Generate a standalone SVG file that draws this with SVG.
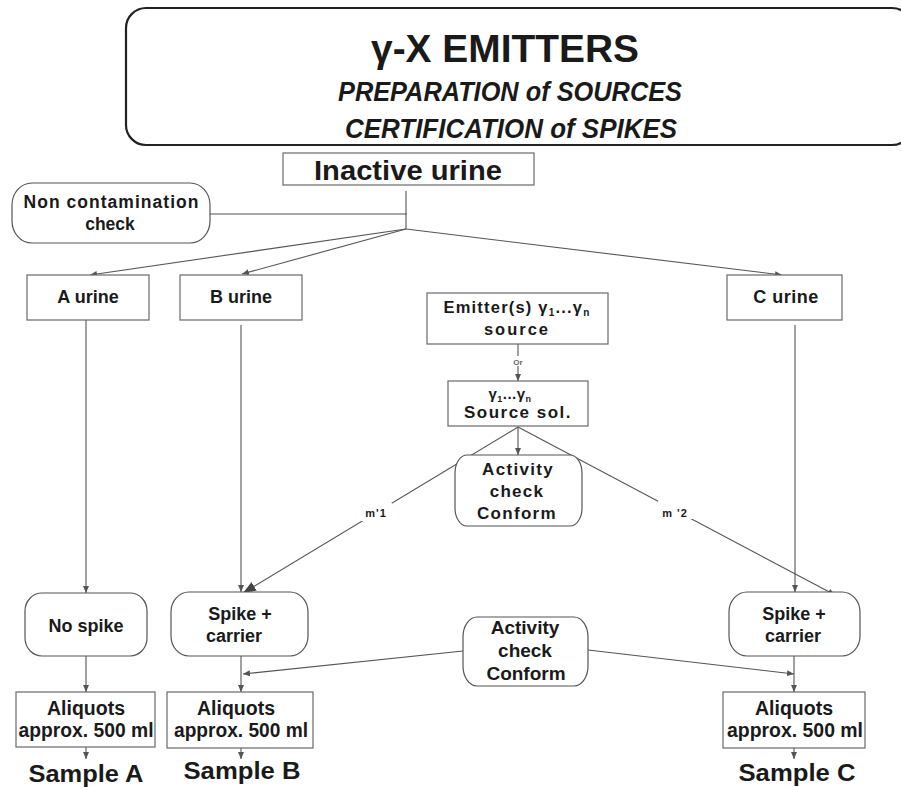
<svg xmlns="http://www.w3.org/2000/svg" width="901" height="787" viewBox="0 0 901 787">
<style>
text{font-family:"Liberation Sans",Arial,sans-serif;font-weight:bold;fill:#1a1a1a;text-anchor:middle}
.box{fill:#fff;stroke:#6a6a6a;stroke-width:1.2}
.rbox{fill:#fff;stroke:#555;stroke-width:1.2}
.ln{stroke:#555;stroke-width:1.1;fill:none}
.arr{marker-end:url(#ah)}
.lbl{font-size:11px}
</style>
<defs>
<marker id="ah" markerUnits="userSpaceOnUse" markerWidth="8" markerHeight="8" refX="7" refY="4" orient="auto">
<path d="M0,1 L7,4 L0,7 z" fill="#555"/>
</marker>
<marker id="ahb" markerUnits="userSpaceOnUse" markerWidth="14" markerHeight="12" refX="13" refY="6" orient="auto">
<path d="M0,1 L13,6 L0,11 z" fill="#444"/>
</marker>
</defs>
<rect width="901" height="787" fill="#fff"/>

<g id="title">
<rect x="126" y="8" width="786" height="137" rx="20" ry="20" fill="#fff" stroke="#222" stroke-width="2.2"/>
<text x="505" y="62" font-size="39" textLength="268" lengthAdjust="spacingAndGlyphs">γ-X EMITTERS</text>
<text x="510" y="101" font-size="27" font-style="italic" textLength="344" lengthAdjust="spacingAndGlyphs">PREPARATION of SOURCES</text>
<text x="511" y="138" font-size="27" font-style="italic" textLength="332" lengthAdjust="spacingAndGlyphs">CERTIFICATION of SPIKES</text>
</g>

<g id="connectors">
<line class="ln" x1="406" y1="191" x2="406" y2="229"/>
<line class="ln" x1="210" y1="214" x2="407" y2="214"/>
<line class="ln arr" x1="406" y1="229" x2="90" y2="275"/>
<line class="ln arr" x1="406" y1="229" x2="242" y2="274"/>
<line class="ln arr" x1="406" y1="229" x2="782" y2="275"/>
<line class="ln arr" x1="86" y1="320" x2="86" y2="593"/>
<line class="ln arr" x1="241" y1="325" x2="241" y2="592"/>
<line class="ln arr" x1="795" y1="325" x2="795" y2="592"/>
<line class="ln arr" x1="518" y1="344" x2="518" y2="381"/>
<line class="ln arr" x1="518" y1="427" x2="518" y2="455"/>
<line class="ln" x1="518" y1="427" x2="243" y2="593" marker-end="url(#ahb)"/>
<line class="ln arr" x1="518" y1="427" x2="835" y2="595"/>
<line class="ln arr" x1="463" y1="651" x2="243" y2="674"/>
<line class="ln arr" x1="588" y1="650" x2="794" y2="674"/>
<line class="ln arr" x1="86" y1="656" x2="86" y2="692"/>
<line class="ln arr" x1="241" y1="656" x2="241" y2="692"/>
<line class="ln arr" x1="794" y1="656" x2="794" y2="692"/>
<line class="ln arr" x1="86" y1="747" x2="86" y2="759"/>
<line class="ln arr" x1="241" y1="748" x2="241" y2="759"/>
<line class="ln arr" x1="794" y1="748" x2="794" y2="759"/>
<rect x="511" y="356" width="14" height="10" fill="#fff"/>
<text x="518" y="365" font-size="8" font-weight="normal" style="fill:#666">Or</text>
<rect x="360" y="503" width="32" height="18" fill="#fff"/>
<text class="lbl" x="376" y="517" letter-spacing="1">m'1</text>
<rect x="658" y="501" width="35" height="18" fill="#fff"/>
<text class="lbl" x="675" y="517" letter-spacing="1">m '2</text>
</g>

<g id="inactive">
<rect class="box" x="283" y="153" width="251" height="32"/>
<text x="408" y="180" font-size="27" textLength="188" lengthAdjust="spacingAndGlyphs">Inactive urine</text>
</g>

<g id="noncontam">
<rect class="rbox" x="12" y="183" width="198" height="60" rx="20" ry="22"/>
<text x="111" y="208" font-size="17.5" textLength="175" lengthAdjust="spacing">Non contamination</text>
<text x="110" y="230" font-size="17.5">check</text>
</g>

<g id="aurine">
<rect class="box" x="27" y="275" width="122" height="45"/>
<text x="88" y="303" font-size="18">A urine</text>
</g>
<g id="burine">
<rect class="box" x="180" y="275" width="122" height="45"/>
<text x="241" y="303" font-size="18">B urine</text>
</g>
<g id="curine">
<rect class="box" x="727" y="275" width="115" height="45"/>
<text x="786" y="303" font-size="18" letter-spacing="0.5">C urine</text>
</g>

<g id="emitter">
<rect class="box" x="427" y="293" width="181" height="51"/>
<text x="517" y="313" font-size="16.5" letter-spacing="1.2">Emitter(s) γ<tspan font-size="10" dy="3">1</tspan><tspan dy="-3">...γ</tspan><tspan font-size="10" dy="3">n</tspan></text>
<text x="517" y="335" font-size="16.5" letter-spacing="2">source</text>
</g>

<g id="sourcesol">
<rect class="box" x="448" y="381" width="140" height="45"/>
<text x="510" y="399" font-size="15" letter-spacing="0.5">γ<tspan font-size="9" dy="3">1</tspan><tspan dy="-3">...γ</tspan><tspan font-size="9" dy="3">n</tspan></text>
<text x="518" y="418" font-size="17" letter-spacing="1.5">Source sol.</text>
</g>

<g id="activity1">
<rect class="rbox" x="455" y="455" width="127" height="71" rx="12" ry="18"/>
<text x="518" y="475" font-size="17" letter-spacing="1.3">Activity</text>
<text x="517" y="497" font-size="17" letter-spacing="1.3">check</text>
<text x="517" y="519" font-size="17" letter-spacing="1.3">Conform</text>
</g>

<g id="nospike">
<rect class="rbox" x="25" y="593" width="122" height="63" rx="17" ry="18"/>
<text x="86" y="632" font-size="18">No spike</text>
</g>
<g id="spikeb">
<rect class="rbox" x="171" y="592" width="137" height="64" rx="18" ry="20"/>
<text x="240" y="620" font-size="18">Spike +</text>
<text x="234" y="642" font-size="18">carrier</text>
</g>
<g id="spikec">
<rect class="rbox" x="729" y="592" width="131" height="64" rx="18" ry="20"/>
<text x="794" y="620" font-size="18">Spike +</text>
<text x="793" y="642" font-size="18">carrier</text>
</g>

<g id="activity2">
<rect class="rbox" x="463" y="617" width="125" height="69" rx="14" ry="20"/>
<text x="525" y="634" font-size="19">Activity</text>
<text x="525" y="657" font-size="19">check</text>
<text x="526" y="680" font-size="19">Conform</text>
</g>

<g id="aliqa">
<rect class="box" x="16" y="692" width="139" height="55"/>
<text x="86" y="715" font-size="19.5">Aliquots</text>
<text x="86" y="737" font-size="19.5" textLength="135" lengthAdjust="spacingAndGlyphs">approx. 500 ml</text>
</g>
<g id="aliqb">
<rect class="box" x="167" y="692" width="146" height="56"/>
<text x="236" y="715" font-size="19.5">Aliquots</text>
<text x="241" y="737" font-size="19.5" textLength="134" lengthAdjust="spacingAndGlyphs">approx. 500 ml</text>
</g>
<g id="aliqc">
<rect class="box" x="723" y="692" width="142" height="56"/>
<text x="794" y="715" font-size="19.5">Aliquots</text>
<text x="795" y="737" font-size="19.5" textLength="136" lengthAdjust="spacingAndGlyphs">approx. 500 ml</text>
</g>

<g id="samples">
<text x="86" y="782" font-size="23" textLength="115" lengthAdjust="spacingAndGlyphs">Sample A</text>
<text x="242" y="779" font-size="23" textLength="117" lengthAdjust="spacingAndGlyphs">Sample B</text>
<text x="797" y="781" font-size="23" textLength="117" lengthAdjust="spacingAndGlyphs">Sample C</text>
</g>
</svg>
